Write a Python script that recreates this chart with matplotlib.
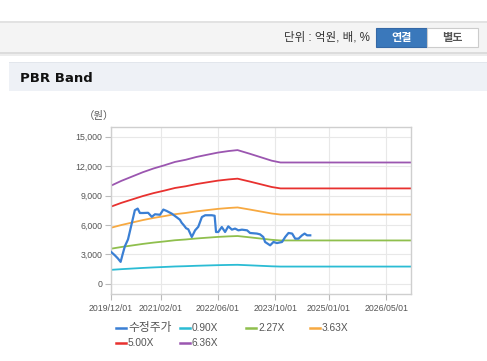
import matplotlib
matplotlib.use("Agg")
import matplotlib.pyplot as plt
from matplotlib.patches import Rectangle
from matplotlib.lines import Line2D
import numpy as np
import pandas as pd

plt.rcParams['font.family'] = ['Liberation Sans', 'Noto Sans CJK KR', 'DejaVu Sans']

# ---------------- data ----------------
price_dates = ["2019-12-01", "2020-01-07", "2020-02-01", "2020-02-25", "2020-03-13", "2020-04-01",
               "2020-04-28", "2020-05-28", "2020-06-25", "2020-07-19", "2020-08-07", "2020-09-03",
               "2020-10-16", "2020-11-16", "2020-12-13", "2021-01-25", "2021-02-22", "2021-03-22",
               "2021-05-04", "2021-06-16", "2021-07-13", "2021-07-28", "2021-08-16", "2021-09-04",
               "2021-09-22", "2021-10-22", "2021-11-19", "2021-12-16", "2022-01-16", "2022-02-13",
               "2022-04-10", "2022-05-04", "2022-05-16", "2022-06-04", "2022-07-04", "2022-08-01",
               "2022-08-28", "2022-09-28", "2022-10-25", "2022-11-22", "2022-12-22", "2023-02-04",
               "2023-03-01", "2023-04-28", "2023-05-25", "2023-06-22", "2023-07-07", "2023-08-19",
               "2023-09-16", "2023-10-16", "2023-11-28", "2023-12-25", "2024-01-22", "2024-02-22",
               "2024-03-19", "2024-04-16", "2024-05-16", "2024-06-07", "2024-06-28", "2024-07-25"]
price_values = [3300, 2900, 2590, 2230, 3000, 3820,
                4530, 6070, 7500, 7670, 7220, 7220,
                7240, 6830, 7090, 7040, 7570, 7430,
                7160, 6780, 6530, 6220, 5960, 5660,
                5560, 4770, 5450, 5810, 6810, 6990,
                6990, 6940, 5280, 5280, 5790, 5280,
                5860, 5520, 5630, 5450, 5520, 5450,
                5180, 5120, 5040, 4770, 4260, 3920,
                4260, 4150, 4260, 4770, 5180, 5120,
                4600, 4600, 4940, 5120, 4940, 4940]

bps_dates = ["2019-12-01", "2020-03-01", "2020-06-01", "2020-09-01", "2020-12-01", "2021-03-01",
             "2021-06-01", "2021-09-01", "2021-12-01", "2022-03-01", "2022-06-01", "2022-09-01",
             "2022-11-15", "2023-03-01", "2023-06-01", "2023-09-01", "2023-11-15", "2026-11-24"]
bps_values = [1570, 1650, 1720, 1790, 1850, 1900,
              1955, 1990, 2035, 2070, 2105, 2130,
              2145, 2085, 2030, 1975, 1946, 1946]

band_labels = ["0.90X", "2.27X", "3.63X", "5.00X", "6.36X"]
band_multiples = [0.90, 2.27, 3.63, 5.00, 6.36]
band_colors = ["#2bbcd4", "#8fbf4d", "#f7a941", "#e8312f", "#9b56b0"]
price_label = "수정주가"
price_color = "#3a7fd4"

xtick_labels = ["2019/12/01", "2021/02/01", "2022/06/01", "2023/10/01", "2025/01/01", "2026/05/01"]
yticks = [0, 3000, 6000, 9000, 12000, 15000]

# ---------------- figure ----------------
W, H = 487, 361
fig = plt.figure(figsize=(W / 100, H / 100), dpi=100)
fig.patch.set_facecolor("white")

bg = fig.add_axes([0, 0, 1, 1], zorder=-5)
bg.set_xlim(0, W)
bg.set_ylim(H, 0)
bg.axis("off")

# header bar
bg.add_patch(Rectangle((0, 20.5), W, 2, color="#e2e2e2", lw=0))
bg.add_patch(Rectangle((0, 22.5), W, 29.5, color="#f4f4f4", lw=0))
bg.add_patch(Rectangle((0, 52), W, 1.5, color="#dcdcdc", lw=0))
bg.add_patch(Rectangle((0, 53.5), W, 2, color="#ededed", lw=0))
bg.text(370, 38, "단위 : 억원, 배, %", ha="right", va="center", fontsize=8.3, color="#333333")
bg.add_patch(Rectangle((376, 28), 51, 19, facecolor="#3a78bb", edgecolor="#3568a6", lw=0.8))
bg.text(401.5, 37.8, "연결", ha="center", va="center", fontsize=8, color="white", fontweight="bold")
bg.add_patch(Rectangle((427, 28), 51, 19, facecolor="white", edgecolor="#cccccc", lw=0.8))
bg.text(452.5, 37.8, "별도", ha="center", va="center", fontsize=8, color="#555555", fontweight="bold")

# title band
bg.add_patch(Rectangle((9, 61.5), W - 9, 1.5, color="#e2e6ec", lw=0))
bg.add_patch(Rectangle((9, 63), W - 9, 28, color="#eef1f6", lw=0))
bg.text(20, 78, "PBR Band", ha="left", va="center", fontsize=9.5, fontweight="bold", color="#111111",
        family=["DejaVu Sans"])
bg.text(99, 116.5, "（원）", ha="center", va="center", fontsize=7.5, color="#555555")

# main axes
left, right, top, bottom = 110.5, 410.5, 127, 294
ax = fig.add_axes([left / W, 1 - bottom / H, (right - left) / W, (bottom - top) / H])

pdates = pd.to_datetime(price_dates)
bdates = pd.to_datetime(bps_dates)
bps = np.array(bps_values, dtype=float)

for lab, m, c in zip(band_labels, band_multiples, band_colors):
    ax.plot(bdates, bps * m, color=c, lw=1.3, label=lab, solid_joinstyle="round")
ax.plot(pdates, price_values, color=price_color, lw=1.6, label=price_label, zorder=5)

ax.set_xlim(pd.Timestamp("2019-12-01"), pd.Timestamp("2026-11-24"))
ax.set_ylim(-1050, 16000)
ax.set_yticks(yticks)
ax.set_yticklabels([f"{v:,}" for v in yticks])
ax.set_xticks(pd.to_datetime([s.replace("/", "-") for s in xtick_labels]))
ax.set_xticklabels(xtick_labels)

ax.grid(True, color="#e8e8e8", lw=0.8)
ax.set_axisbelow(True)
for s in ax.spines.values():
    s.set_color("#cfcfcf")
    s.set_linewidth(1.0)
ax.tick_params(axis="both", colors="#bbbbbb", labelcolor="#555555", labelsize=6.3, length=4, width=0.8)
ax.tick_params(axis="x", pad=3)
ax.tick_params(axis="y", pad=2)

# legend (manual layout)
entries = [(price_label, price_color, 116, 327.5), ("0.90X", band_colors[0], 180, 327.5),
           ("2.27X", band_colors[1], 246, 327.5), ("3.63X", band_colors[2], 310, 327.5),
           ("5.00X", band_colors[3], 116, 342.5), ("6.36X", band_colors[4], 180, 342.5)]
for lab, c, x0, y0 in entries:
    bg.add_line(Line2D([x0, x0 + 10], [y0, y0], color=c, lw=1.8))
    fs = 8.5 if lab == price_label else 7.3
    bg.text(x0 + 12, y0 + 0.3, lab, ha="left", va="center", fontsize=fs, color="#555555")

fig.savefig("out.png", dpi=100)
